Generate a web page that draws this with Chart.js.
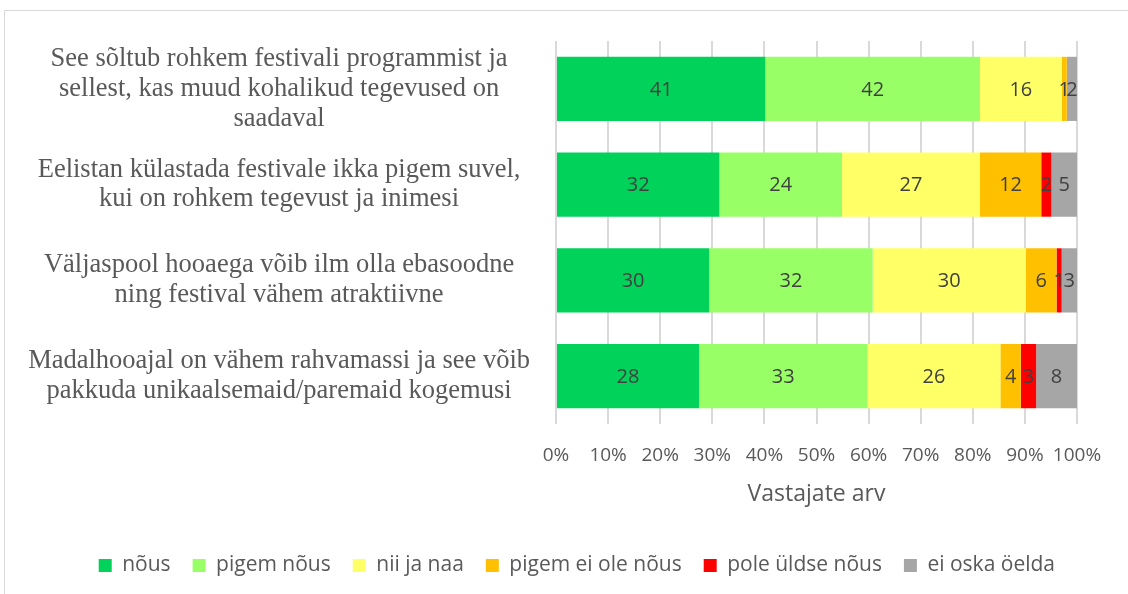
<!DOCTYPE html>
<html>
<head>
<meta charset="utf-8">
<script src="https://cdn.jsdelivr.net/npm/chart.js@4.4.1/dist/chart.umd.min.js"></script>
<style>
  html, body { margin: 0; padding: 0; background: #fff; }
  #wrap { position: relative; width: 1128px; height: 594px; }
  #frame { position: absolute; left: 4px; top: 10px; width: 1140px; height: 600px; border: 1px solid #d9d9d9; box-sizing: border-box; }
  canvas { position: absolute; left: 0; top: 0; }
</style>
</head>
<body>
<div id="wrap">
  <div id="frame"></div>
  <canvas id="myChart" width="1128" height="594"></canvas>
</div>
<script>
// Statements (y categories), multi-line as in the original
const categories = [
    ['See sõltub rohkem festivali programmist ja', 'sellest, kas muud kohalikud tegevused on', 'saadaval'],
    ['Eelistan külastada festivale ikka pigem suvel,', 'kui on rohkem tegevust ja inimesi'],
    ['Väljaspool hooaega võib ilm olla ebasoodne', 'ning festival vähem atraktiivne'],
    ['Madalhooajal on vähem rahvamassi ja see võib', 'pakkuda unikaalsemaid/paremaid kogemusi']
];

// Answer counts per statement
const nous = [41, 32, 30, 28];
const pigemNous = [42, 24, 32, 33];
const niiJaNaa = [16, 27, 30, 26];
const pigemEiOle = [1, 12, 6, 4];
const poleUldse = [0, 2, 1, 3];
const eiOska = [2, 5, 3, 8];

const seriesNames = ['nõus', 'pigem nõus', 'nii ja naa', 'pigem ei ole nõus', 'pole üldse nõus', 'ei oska öelda'];
const seriesColors = ['#00d25a', '#99ff66', '#ffff66', '#ffc000', '#ff0000', '#a6a6a6'];
const seriesValues = [nous, pigemNous, niiJaNaa, pigemEiOle, poleUldse, eiOska];

const xTicks = [0, 10, 20, 30, 40, 50, 60, 70, 80, 90, 100];

// Totals per row, so bars are drawn as shares (100% stacked)
const totals = categories.map((c, i) => seriesValues.reduce((s, arr) => s + arr[i], 0));

const datasets = seriesValues.map((arr, k) => ({
    label: seriesNames[k],
    data: arr.map((v, i) => v / totals[i] * 100),
    counts: arr,
    backgroundColor: seriesColors[k],
    borderWidth: 0,
    barPercentage: 0.67,
    categoryPercentage: 1
}));

// Draw counts in the middle of every segment
const barLabels = {
    id: 'barLabels',
    afterDatasetsDraw(chart) {
        const ctx = chart.ctx;
        ctx.save();
        ctx.font = '20px "Open Sans", sans-serif';
        ctx.fillStyle = '#404040';
        ctx.textAlign = 'center';
        ctx.textBaseline = 'middle';
        chart.data.datasets.forEach((ds, di) => {
            chart.getDatasetMeta(di).data.forEach((bar, i) => {
                const v = ds.counts[i];
                if (!v) return;
                const p = bar.getCenterPoint();
                ctx.fillText(String(v), p.x, p.y + 1);
            });
        });
        ctx.restore();
    }
};

document.addEventListener('DOMContentLoaded', function() {
    const ctx = document.getElementById('myChart').getContext('2d');
    new Chart(ctx, {
        type: 'bar',
        data: { labels: categories, datasets: datasets },
        plugins: [barLabels],
        options: {
            indexAxis: 'y',
            responsive: false,
            animation: false,
            layout: { padding: { left: 10, right: 51, top: 41, bottom: 8 } },
            plugins: {
                tooltip: { enabled: false },
                legend: {
                    position: 'bottom',
                    align: 'end',
                    labels: {
                        boxWidth: 13,
                        boxHeight: 13,
                        padding: 22,
                        color: '#595959',
                        font: { family: '"Open Sans", sans-serif', size: 21 }
                    }
                }
            },
            scales: {
                x: {
                    stacked: true,
                    min: 0,
                    max: 100,
                    afterBuildTicks: function(scale) {
                        scale.ticks = xTicks.map(v => ({ value: v }));
                    },
                    afterFit: function(scale) { scale.height = 109; },
                    grid: { color: '#d9d9d9', lineWidth: 2, drawTicks: false },
                    border: { display: false },
                    ticks: {
                        autoSkip: false,
                        maxRotation: 0,
                        minRotation: 0,
                        padding: 20,
                        color: '#595959',
                        font: { family: '"Open Sans", sans-serif', size: 19 },
                        callback: v => v + '%'
                    },
                    title: {
                        display: true,
                        text: 'Vastajate arv',
                        color: '#595959',
                        font: { family: '"Open Sans", sans-serif', size: 23 },
                        padding: { top: 10, bottom: 25 }
                    }
                },
                y: {
                    stacked: true,
                    afterFit: function(scale) {
                        scale.width = 546;
                        // labels are tall; keep them from shrinking the plot area
                        scale.paddingTop = 0;
                        scale.paddingBottom = 0;
                    },
                    grid: { display: false },
                    border: { display: false },
                    ticks: {
                        autoSkip: false,
                        crossAlign: 'center',
                        padding: 18,
                        color: '#595959',
                        font: { family: '"Liberation Serif", "Times New Roman", serif', size: 26.5, lineHeight: 1.12 }
                    }
                }
            }
        }
    });
});
</script>
</body>
</html>
